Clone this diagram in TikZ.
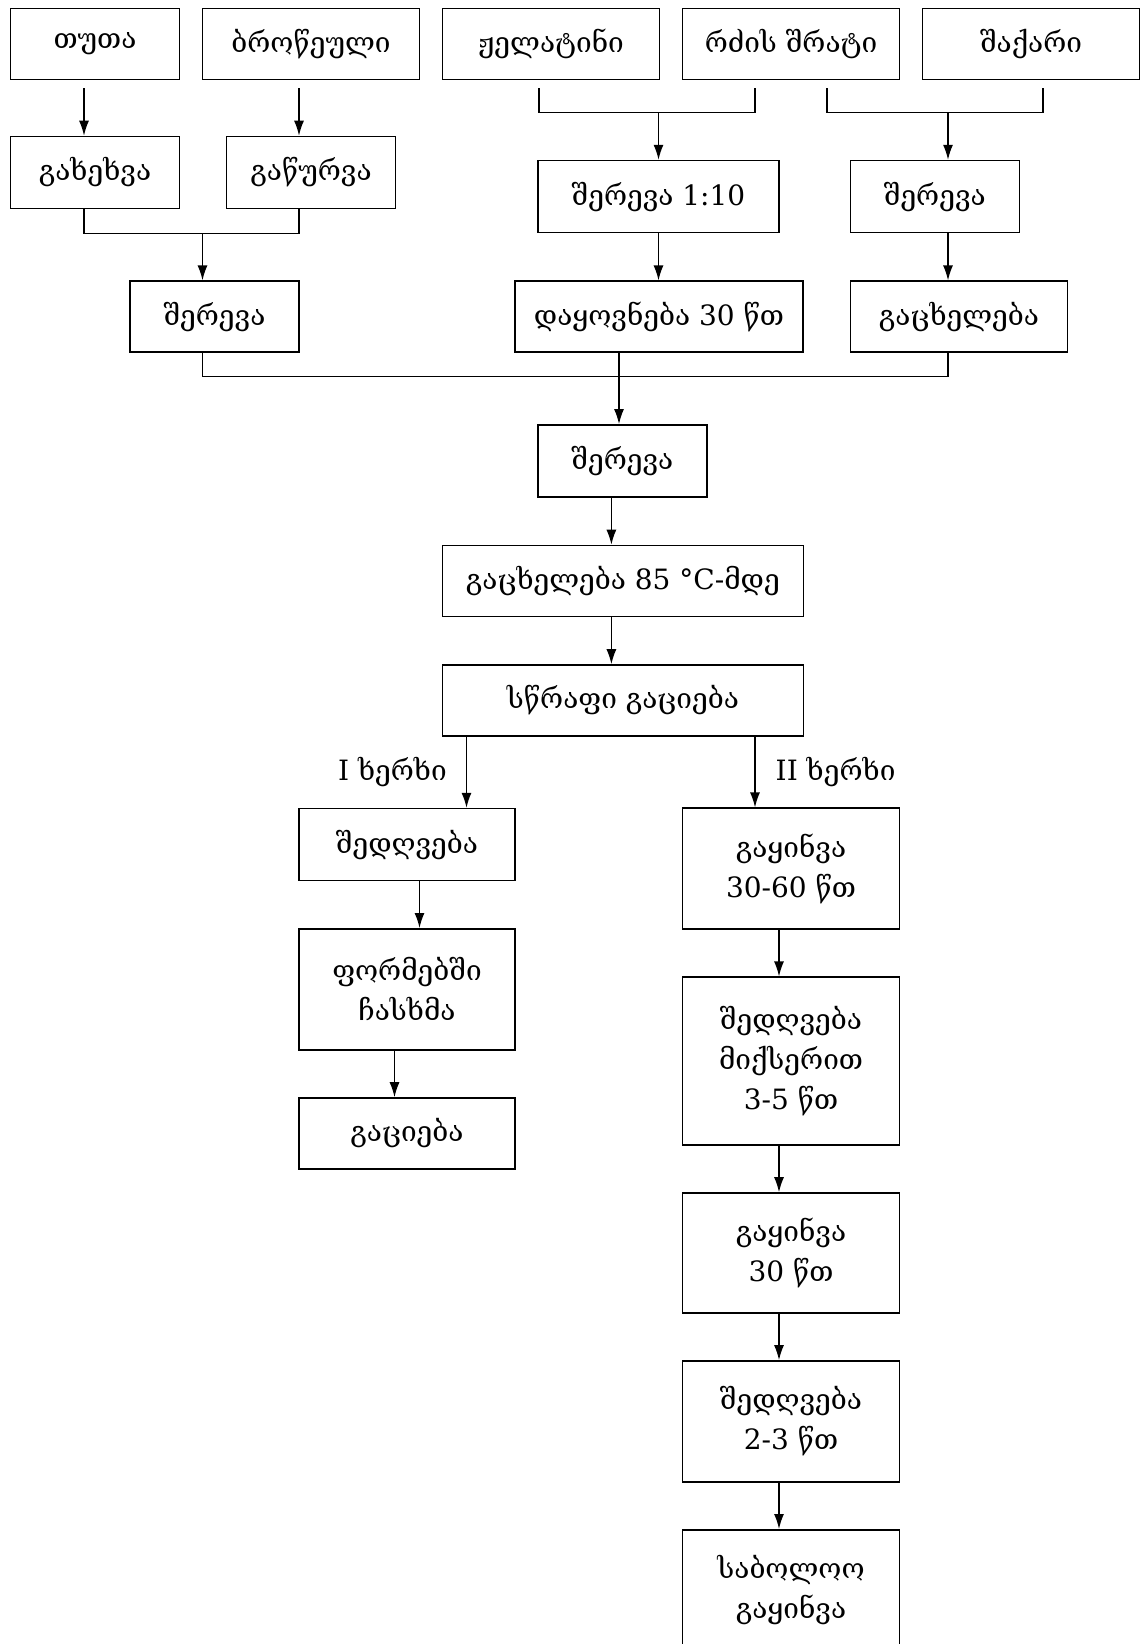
\documentclass[tikz,border=0pt]{standalone}
\usepackage{fontspec}
\setmainfont{DejaVu Serif}
\usetikzlibrary{arrows.meta}

\tikzset{
  stepbox/.style={draw, line width=1.6pt, inner sep=0pt, align=center},
  link/.style={line width=1.4pt},
  arr/.style={line width=1.4pt, -{Latex[length=15pt,width=10pt]}},
}

\begin{document}
\begin{tikzpicture}[x=1pt, y=-1pt, font=\fontsize{28}{40}\selectfont]

\clip (0,0) rectangle (1144,1644);

%------------------------------------------------
% Raw materials
%------------------------------------------------

\node[stepbox, minimum width=169pt, minimum height=71pt] (tuta)      at (95,44)   {თუთა};
\node[stepbox, minimum width=217pt, minimum height=71pt] (brotseuli) at (311,44)  {ბროწეული};
\node[stepbox, minimum width=217pt, minimum height=71pt] (zhelatini) at (551,44)  {ჟელატინი};
\node[stepbox, minimum width=217pt, minimum height=71pt] (rdze)      at (791,44)  {რძის შრატი};
\node[stepbox, minimum width=217pt, minimum height=71pt] (shaqari)   at (1031,44) {შაქარი};

%------------------------------------------------
% Preparation
%------------------------------------------------

\node[stepbox, minimum width=169pt, minimum height=72pt] (gakhekhva)   at (95,172.5)    {გახეხვა};
\node[stepbox, minimum width=169pt, minimum height=72pt] (gatsurva)    at (311,172.5)   {გაწურვა};
\node[stepbox, minimum width=169pt, minimum height=71pt] (sherevaA)    at (214.5,316.7) {შერევა};
\node[stepbox, minimum width=241pt, minimum height=72pt] (shereva110)  at (658.5,196.6) {შერევა 1:10};
\node[stepbox, minimum width=288pt, minimum height=71pt] (daqovneba)   at (659,316.7)   {დაყოვნება 30 წთ};
\node[stepbox, minimum width=169pt, minimum height=72pt] (sherevaB)    at (934.8,196.6) {შერევა};
\node[stepbox, minimum width=217pt, minimum height=71pt] (gatskheleba) at (959,316.7)   {გაცხელება};

%------------------------------------------------
% Common line
%------------------------------------------------

\node[stepbox, minimum width=169pt, minimum height=72pt] (sherevaC)      at (622.4,460.9) {შერევა};
\node[stepbox, minimum width=361pt, minimum height=71pt] (gatskheleba85) at (622.9,581)   {გაცხელება 85 °C-მდე};
\node[stepbox, minimum width=361pt, minimum height=71pt] (swrapi)        at (622.9,700.5) {სწრაფი გაციება};

%------------------------------------------------
% Method I
%------------------------------------------------

\node[stepbox, minimum width=216pt, minimum height=72pt]  (shedghvebaA) at (407,844.6)  {შედღვება};
\node[stepbox, minimum width=216pt, minimum height=121pt] (formebshi)   at (407,989.3)  {ფორმებში\\ჩასხმა};
\node[stepbox, minimum width=216pt, minimum height=71pt]  (gatsiveba)   at (407,1133.5) {გაციება};

%------------------------------------------------
% Method II
%------------------------------------------------

\node[stepbox, minimum width=217pt, minimum height=121pt] (gaqinvaA)    at (791,868.7)  {გაყინვა\\30-60 წთ};
\node[stepbox, minimum width=217pt, minimum height=168pt] (shedghvebaB) at (791,1061.2) {შედღვება\\მიქსერით\\3-5 წთ};
\node[stepbox, minimum width=217pt, minimum height=120pt] (gaqinvaB)    at (791,1253)   {გაყინვა\\30 წთ};
\node[stepbox, minimum width=217pt, minimum height=121pt] (shedghvebaC) at (791,1421.4) {შედღვება\\2-3 წთ};
\node[stepbox, minimum width=217pt, minimum height=121pt] (gaqinvaC)    at (791,1590.3) {საბოლოო\\გაყინვა};

%------------------------------------------------
% Junctions
%------------------------------------------------

\coordinate (j1) at (202.5,233);
\coordinate (j2) at (658.5,112);
\coordinate (j3) at (948,112);
\coordinate (j4) at (619,376.5);
\coordinate (way1) at (466.5,0);
\coordinate (way2) at (755,0);

%------------------------------------------------
% Connectors, top
%------------------------------------------------

\draw[arr] ([xshift=-11pt,yshift=-8pt]tuta.south) -- ([xshift=-11pt]gakhekhva.north);
\draw[arr] ([xshift=-12pt,yshift=-8pt]brotseuli.south) -- ([xshift=-12pt]gatsurva.north);

\draw[link] ([xshift=-11pt]gakhekhva.south) -- ++(0,24) -| ([xshift=-12pt]gatsurva.south);
\draw[arr] (j1) -- (j1 |- sherevaA.north);

\draw[link] ([xshift=-12pt,yshift=-8pt]zhelatini.south) -- ++(0,24) -| ([xshift=-36pt,yshift=-8pt]rdze.south);
\draw[arr] (j2) -- (j2 |- shereva110.north);
\draw[arr] (shereva110.south) -- (shereva110.south |- daqovneba.north);

\draw[link] ([xshift=36pt,yshift=-8pt]rdze.south) -- ++(0,24) -| ([xshift=12pt,yshift=-8pt]shaqari.south);
\draw[arr] (j3) -- (j3 |- sherevaB.north);
\draw[arr] (j3 |- sherevaB.south) -- (j3 |- gatskheleba.north);

%------------------------------------------------
% Connectors, middle
%------------------------------------------------

\draw[link] (j1 |- sherevaA.south) -- (j1 |- j4) -| (j3 |- gatskheleba.south);
\draw[arr] (j4 |- daqovneba.south) -- (j4 |- sherevaC.north);
\draw[arr] ([xshift=-11pt]sherevaC.south) -- ([xshift=-11pt]sherevaC.south |- gatskheleba85.north);
\draw[arr] ([xshift=-11.5pt]gatskheleba85.south) -- ([xshift=-11.5pt]swrapi.north);

\draw[arr] (way1 |- swrapi.south) -- (way1 |- shedghvebaA.north)
  node[midway, left=19pt, inner sep=0pt] (lblA) {I ხერხი};
\draw[arr] (way2 |- swrapi.south) -- (way2 |- gaqinvaA.north)
  node[midway, right=20pt, inner sep=0pt] (lblB) {II ხერხი};

%------------------------------------------------
% Connectors, bottom
%------------------------------------------------

\draw[arr] ([xshift=12.5pt]shedghvebaA.south) -- ([xshift=12.5pt]formebshi.north);
\draw[arr] ([xshift=-12.5pt]formebshi.south) -- ([xshift=-12.5pt]gatsiveba.north);

\draw[arr] ([xshift=-12pt]gaqinvaA.south) -- ([xshift=-12pt]shedghvebaB.north);
\draw[arr] ([xshift=-12pt]shedghvebaB.south) -- ([xshift=-12pt]gaqinvaB.north);
\draw[arr] ([xshift=-12pt]gaqinvaB.south) -- ([xshift=-12pt]shedghvebaC.north);
\draw[arr] ([xshift=-12pt]shedghvebaC.south) -- ([xshift=-12pt]gaqinvaC.north);

\end{tikzpicture}
\end{document}
